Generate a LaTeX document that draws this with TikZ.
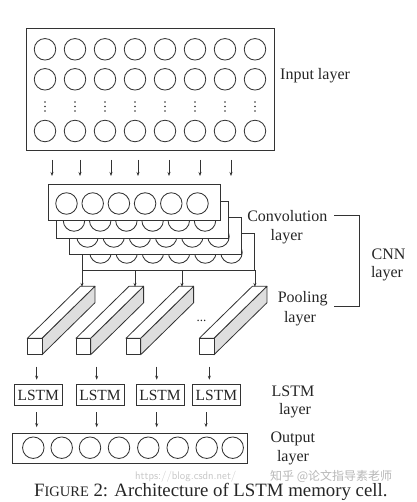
\documentclass[tikz,border=0pt]{standalone}
\usepackage{fontspec}
\setmainfont{Liberation Serif}
\newfontfamily\cjkfont{Noto Sans CJK SC}
\usetikzlibrary{arrows.meta,calc}
\begin{document}
\begin{tikzpicture}[x=1pt,y=-1pt,
  frame/.style={draw=black!80, line width=0.9pt, fill=white, inner sep=0pt, anchor=north west},
  neuron/.style={circle, draw=black!80, line width=0.85pt, minimum size=21.5pt, inner sep=0pt},
  conn/.style={draw=black!80, line width=0.7pt, -{Stealth[length=4pt,width=3pt]}},
  lbl/.style={font=\fontsize{16}{19}\selectfont, text=black!85, inner sep=0pt, anchor=base},
  face/.style={draw=black!80, line width=0.8pt, line join=round},
  lstmbox/.style={draw=black!80, line width=0.9pt, minimum width=48pt, minimum height=21.7pt, inner sep=0pt, font=\fontsize{15.5}{18}\selectfont, text=black!85}
]
\useasboundingbox[fill=white] (0,0) rectangle (416,502);

% ---------- input layer ----------
\node[frame, minimum width=248pt, minimum height=122pt] (inp) at (26,28) {};
\foreach \i in {0,...,7} {
  \node[neuron] (ia\i) at (45+30*\i,49.3) {};
  \node[neuron] (ib\i) at (45+30*\i,79.3) {};
  \node[neuron] (ic\i) at (45+30*\i,131) {};
  \foreach \d in {102,106.5,111} \fill[black!80] (45+30*\i,\d) circle (0.9pt);
}
\node[lbl, anchor=west] (inlbl) at (280,76) {Input layer};

% ---------- convolution layers (back to front) ----------
\foreach \n/\x/\y in {c4/82/233,c3/69/217,c2/55.5/201,c1/48/184} {
  \node[frame, minimum width=172pt, minimum height=36.5pt] (\n) at (\x,\y) {};
  \foreach \i in {0,...,5} \node[neuron] at (\x+18.5+26.2*\i,\y+19.5) {};
}
\foreach \x in {52,80,111,138,169,200,231}
  \draw[conn] ($(inp.south -| \x,0)+(0,9)$) -- ($(c1.north -| \x,0)+(0,-8)$);

% ---------- pooling bars ----------
\foreach \k/\x in {1/27.3,2/76,3/126,4/199.3} {
  \coordinate (p\k) at (\x,338.3);
  \filldraw[face, fill=black!13] (p\k) ++(14.6,0) -- ++(53,-52) -- ++(0,16.5) -- ++(-53,52) -- cycle;
  \filldraw[face, fill=white] (p\k) -- ++(53,-52) -- ++(14.6,0) -- ++(-53,52) -- cycle;
  \filldraw[face, fill=white] (p\k) rectangle ++(14.6,16.5);
}
\draw[conn] (c4.south west) -- ($(c4.south west)+(0,16.5)$);
\draw[conn] (c4.south -| 135,0) -- ($(c4.south -| 135,0)+(0,16.5)$);
\draw[conn] (c4.south -| 182,0) -- ($(c4.south -| 182,0)+(0,16.5)$);
\draw[conn] (c4.south east) -- ($(c4.south east)+(0,16.5)$);
\node[font=\fontsize{13}{15}\selectfont, text=black!85, anchor=base, inner sep=0pt] (dots) at (201.5,321) {...};

% ---------- LSTM ----------
\node[lstmbox] (l1) at (38.3,395) {LSTM};
\node[lstmbox] (l2) at (100,395) {LSTM};
\node[lstmbox] (l3) at (160,395) {LSTM};
\node[lstmbox] (l4) at (216.4,395) {LSTM};
\foreach \k/\x in {1/36.7,2/96.7,3/156.7,4/209.3}
  \draw[conn] ($(l\k.north -| \x,0)+(0,-17)$) -- ($(l\k.north -| \x,0)+(0,-4)$);

% ---------- output ----------
\node[frame, minimum width=235pt, minimum height=30pt] (out) at (11.7,432.7) {};
\foreach \x [count=\j] in {33.3,61.7,90,119,148.3,177.7,206.7,232.7}
  \node[neuron] (o\j) at (\x,447.7) {};
\foreach \k/\x in {1/36.7,2/96.7,3/156.7,4/206}
  \draw[conn] ($(l\k.south -| \x,0)+(0,6)$) -- ($(out.north -| \x,0)+(0,-5.5)$);

% ---------- labels ----------
\node[lbl] (conv) at (287.3,221.5) {Convolution};
\node[lbl] (convb) at (286.7,240.7) {layer};
\node[lbl] (cnn) at (388.5,259.8) {CNN};
\node[lbl] (cnnb) at (387,277.8) {layer};
\node[lbl] (pool) at (302.7,302.5) {Pooling};
\node[lbl] (poolb) at (300,322.3) {layer};
\node[lbl] (lstm) at (293,396.5) {LSTM};
\node[lbl] (lstmb) at (295,414.7) {layer};
\node[lbl] (outl) at (292.8,442.8) {Output};
\node[lbl] (outlb) at (293,461.3) {layer};
\coordinate (bra) at (334,215.5);
\coordinate (brb) at (334,306.7);
\draw[black!80, line width=0.8pt] (bra) -- (359,215.5) -- (359,306.7) -- (brb);

% ---------- caption ----------
\node[anchor=base, font=\fontsize{18.8}{22}\selectfont, text=black!85, inner sep=0pt] (cap) at (210.8,496.5)
  {F{\fontsize{14.5}{18}\selectfont IGURE} 2: Architecture of LSTM memory cell.};
\node[anchor=base west, font=\fontsize{11}{13}\selectfont\sffamily, text=black!22, inner sep=0pt] (wm1) at (135,479) {https://blog.csdn.net/};
\node[anchor=base west, font=\cjkfont\fontsize{12}{14}\selectfont, text=black!28, inner sep=0pt] (wm2) at (270,480.5) {知乎 @论文指导素老师};
\end{tikzpicture}
\end{document}
